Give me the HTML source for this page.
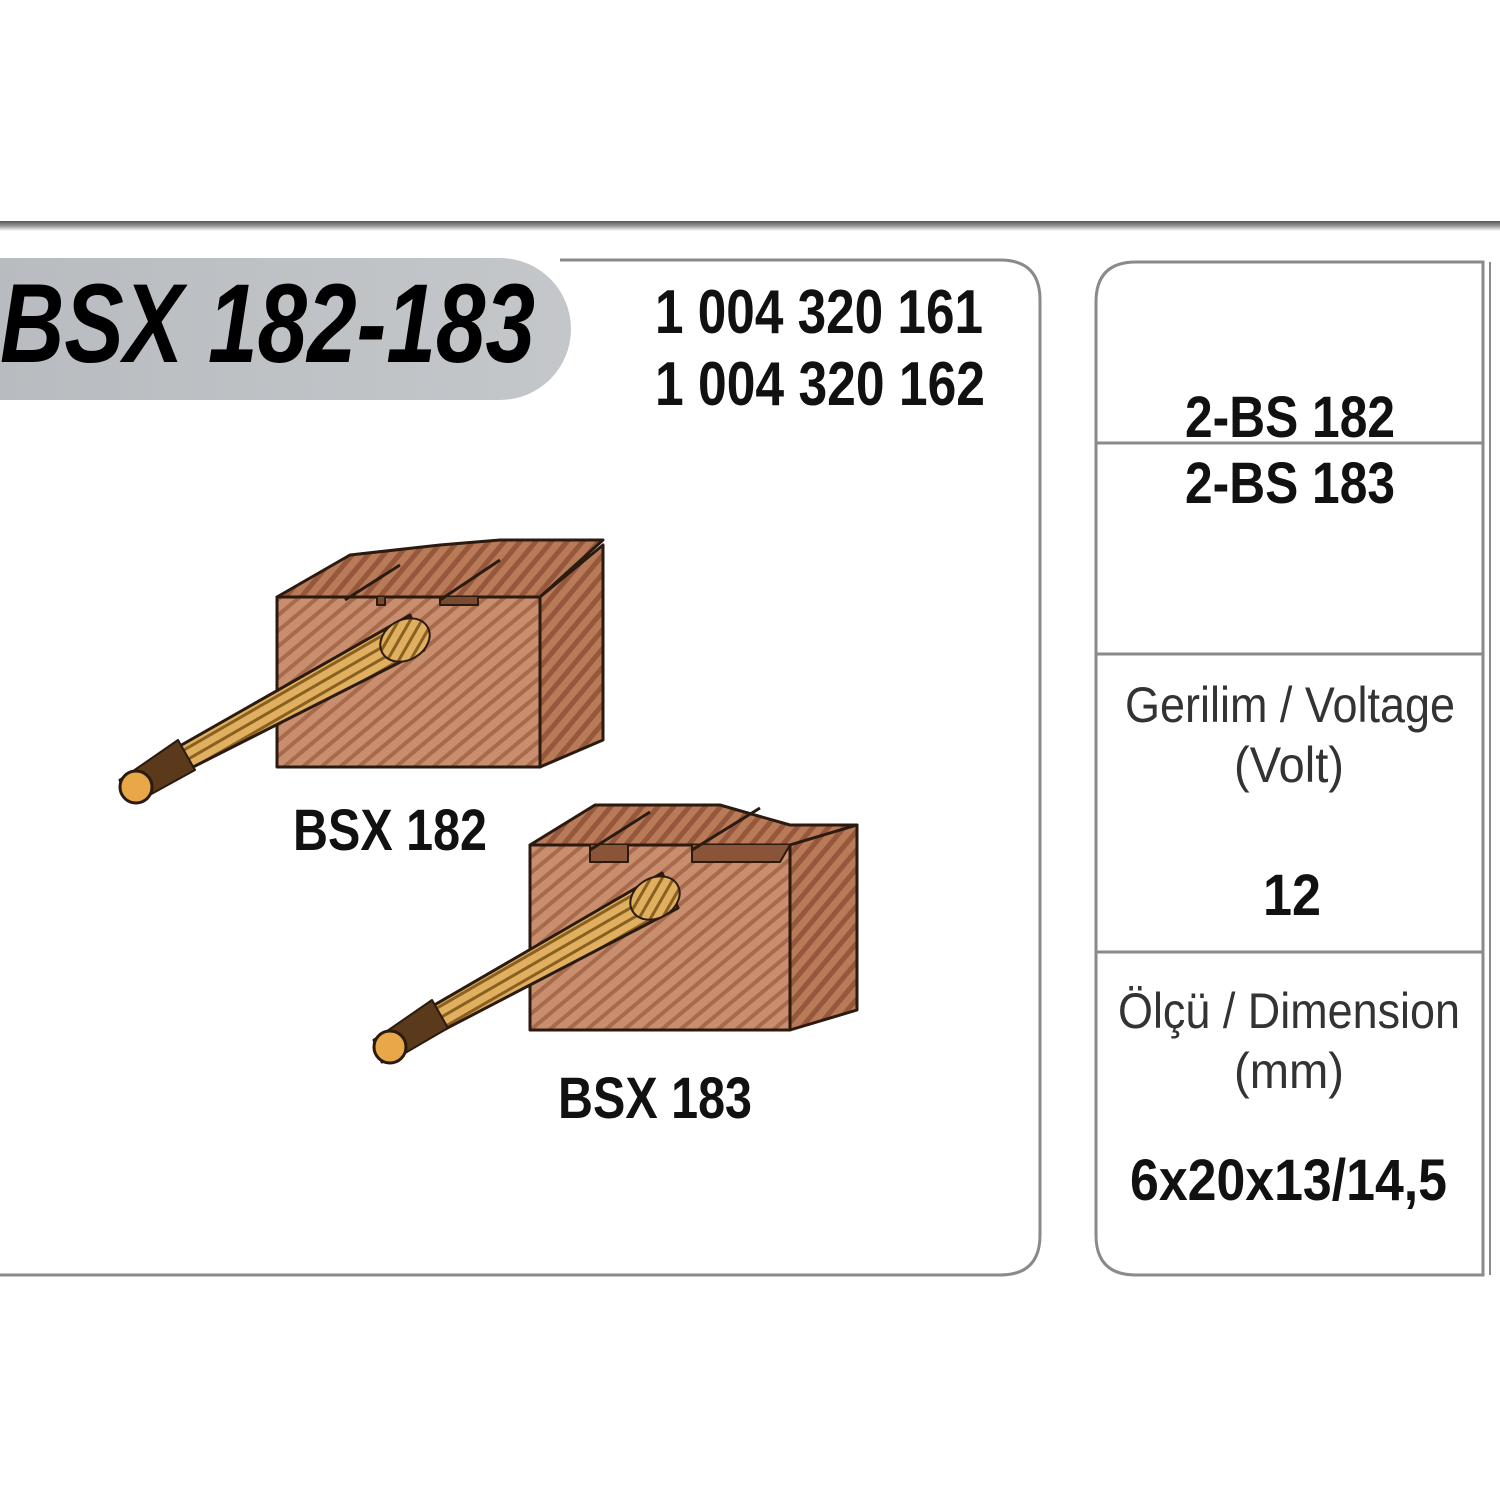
<!DOCTYPE html>
<html><head><style>
html,body{margin:0;padding:0;background:#fff;}
svg{display:block;}
</style></head><body>
<svg width="1500" height="1500" viewBox="0 0 1500 1500" xmlns="http://www.w3.org/2000/svg">
<defs>
<linearGradient id="bar" x1="0" y1="0" x2="0" y2="1">
<stop offset="0" stop-color="#555"/><stop offset="0.5" stop-color="#999"/><stop offset="1" stop-color="#fff"/>
</linearGradient>
<linearGradient id="pill" x1="0" y1="0" x2="1" y2="0">
<stop offset="0" stop-color="#b8bcc0"/><stop offset="1" stop-color="#c4c7ca"/>
</linearGradient>
<pattern id="st" width="12" height="12" patternUnits="userSpaceOnUse" patternTransform="rotate(-40)">
<rect width="12" height="12" fill="#c98e6e"/><rect width="12" height="4" fill="#a86a4c"/>
</pattern>
<pattern id="st2" width="12" height="12" patternUnits="userSpaceOnUse" patternTransform="rotate(-50)">
<rect width="12" height="12" fill="#b97a58"/><rect width="12" height="5" fill="#96583c"/>
</pattern>
<pattern id="wire" width="10" height="10" patternUnits="userSpaceOnUse" patternTransform="rotate(-30)">
<rect width="10" height="10" fill="#e0b060"/><rect width="10" height="3" fill="#8a6020"/>
</pattern>
</defs>
<rect width="1500" height="1500" fill="#fff"/>
<rect x="0" y="221" width="1500" height="10" fill="url(#bar)"/>
<path d="M560 260 H1000 Q1040 260 1040 300 V1235 Q1040 1275 1000 1275 H0" fill="none" stroke="#8a8a8a" stroke-width="3"/>
<path d="M-10 258 H500 A71 71 0 0 1 500 400 H-10 Z" fill="url(#pill)"/>
<text x="0" y="362" font-family="Liberation Sans Narrow, Liberation Sans, sans-serif" font-weight="bold" font-style="italic" font-size="112" textLength="535" lengthAdjust="spacingAndGlyphs" fill="#000">BSX 182-183</text>
<g font-family="Liberation Sans Narrow, Liberation Sans, sans-serif" font-weight="bold" fill="#111">
<text x="655" y="333" font-size="62" textLength="328" lengthAdjust="spacingAndGlyphs">1 004 320 161</text>
<text x="655" y="405" font-size="62" textLength="330" lengthAdjust="spacingAndGlyphs">1 004 320 162</text>
<text x="293" y="850" font-size="58" textLength="194" lengthAdjust="spacingAndGlyphs">BSX 182</text>
<text x="558" y="1118" font-size="58" textLength="194" lengthAdjust="spacingAndGlyphs">BSX 183</text>
<text x="1185" y="437" font-size="58" textLength="210" lengthAdjust="spacingAndGlyphs">2-BS 182</text>
<text x="1185" y="503" font-size="58" textLength="210" lengthAdjust="spacingAndGlyphs">2-BS 183</text>
<text x="1263" y="915" font-size="58" textLength="58" lengthAdjust="spacingAndGlyphs">12</text>
<text x="1130" y="1200" font-size="58" textLength="317" lengthAdjust="spacingAndGlyphs">6x20x13/14,5</text>
</g>
<g font-family="Liberation Sans Narrow, Liberation Sans, sans-serif" fill="#333" font-size="50">
<text x="1125" y="722" textLength="330" lengthAdjust="spacingAndGlyphs">Gerilim / Voltage</text>
<text x="1234" y="782" textLength="110" lengthAdjust="spacingAndGlyphs">(Volt)</text>
<text x="1118" y="1028" textLength="342" lengthAdjust="spacingAndGlyphs">Ölçü / Dimension</text>
<text x="1234" y="1088" textLength="110" lengthAdjust="spacingAndGlyphs">(mm)</text>
</g>
<path d="M1483 262 H1136 Q1096 262 1096 302 V1235 Q1096 1275 1136 1275 H1483 Z" fill="none" stroke="#8a8a8a" stroke-width="3"/>
<line x1="1096" y1="443" x2="1483" y2="443" stroke="#8a8a8a" stroke-width="3"/>
<line x1="1096" y1="654" x2="1483" y2="654" stroke="#8a8a8a" stroke-width="3"/>
<line x1="1096" y1="952" x2="1483" y2="952" stroke="#8a8a8a" stroke-width="3"/>
<line x1="1490" y1="262" x2="1490" y2="1275" stroke="#8a8a8a" stroke-width="2"/>
<!-- block 1 -->
<g stroke="#2a1a10" stroke-width="3" stroke-linejoin="round">
<polygon points="277,597 350,555 440,545 500,540 603,540 540,597" fill="url(#st2)"/>
<polygon points="540,597 603,545 603,740 540,767" fill="url(#st2)"/>
<rect x="277" y="597" width="263" height="170" fill="url(#st)"/>
<path d="M377 597 V605 H385 V597 M440 597 V605 H478 V597" fill="#7a4a30" stroke-width="2"/>
<path d="M345 600 L400 565 M440 600 L500 560" fill="none"/>
<polygon points="120,780 128,800 424,650 410,615" fill="url(#wire)"/>
<ellipse cx="405" cy="640" rx="26" ry="20" fill="url(#wire)" stroke-width="2" transform="rotate(-30 405 640)"/>
<polygon points="120,780 135,803 195,770 178,740" fill="#5a3a1a" stroke-width="2"/>
<circle cx="136" cy="787" r="16" fill="#e8a848" stroke-width="3"/>
</g>
<!-- block 2 -->
<g stroke="#2a1a10" stroke-width="3" stroke-linejoin="round">
<polygon points="530,845 595,805 720,805 790,825 857,825 790,845" fill="url(#st2)"/>
<polygon points="790,845 857,825 857,1010 790,1030" fill="url(#st2)"/>
<rect x="530" y="845" width="260" height="185" fill="url(#st)"/>
<path d="M590 845 V862 H628 V845 M692 845 V862 H780 L790 845" fill="#8a5438" stroke-width="2"/>
<path d="M590 850 L650 812 M692 850 L760 808" fill="none"/>
<polygon points="374,1040 382,1062 678,908 662,873" fill="url(#wire)"/>
<ellipse cx="655" cy="898" rx="26" ry="20" fill="url(#wire)" stroke-width="2" transform="rotate(-30 655 898)"/>
<polygon points="374,1040 388,1063 448,1028 432,1000" fill="#5a3a1a" stroke-width="2"/>
<circle cx="390" cy="1047" r="16" fill="#e8a848" stroke-width="3"/>
</g>
</svg>
</body></html>
